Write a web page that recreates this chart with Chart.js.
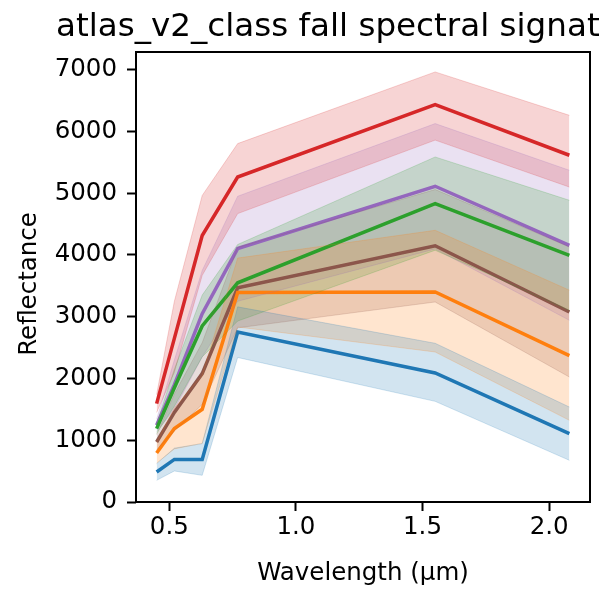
<!DOCTYPE html>
<html>
<head>
<meta charset="utf-8">
<script src="https://cdn.jsdelivr.net/npm/chart.js@4"></script>
<style>
  body { margin: 0; background: #fff; }
</style>
</head>
<body>
<canvas id="signatureChart" width="601" height="590"></canvas>
<script>
// band lower edges of the sensor (µm)
const wavelengths = [0.45, 0.52, 0.63, 0.77, 1.55, 2.08];
const xTicks = [0.5, 1.0, 1.5, 2.0];
const yTicks = [0, 1000, 2000, 3000, 4000, 5000, 6000, 7000];

// mean reflectance per class, with the shaded band (lower / upper)
const blueMean = [486, 690, 690, 2753, 2089, 1108];
const blueLower = [351, 502, 432, 2340, 1630, 675];
const blueUpper = [621, 872, 945, 3160, 2570, 1538];

const orangeMean = [794, 1189, 1501, 3391, 3401, 2370];
const orangeLower = [630, 860, 950, 2834, 2429, 1323];
const orangeUpper = [960, 1520, 2050, 3950, 4400, 3430];

const greenMean = [1189, 1850, 2850, 3550, 4832, 3995];
const greenLower = [1110, 1550, 2350, 2930, 4077, 3105];
const greenUpper = [1270, 2150, 3350, 4170, 5587, 4886];

const redMean = [1593, 2650, 4316, 5263, 6436, 5615];
const redLower = [1450, 2100, 3670, 4670, 5860, 5100];
const redUpper = [1740, 3250, 4964, 5804, 6964, 6262];

const purpleMean = [1242, 1900, 3050, 4104, 5113, 4157];
const purpleLower = [1140, 1500, 2350, 3250, 4098, 2942];
const purpleUpper = [1340, 2300, 3750, 4951, 6128, 5372];

const brownMean = [972, 1450, 2079, 3470, 4150, 3077];
const brownLower = [850, 1150, 1580, 2820, 3239, 2024];
const brownUpper = [1090, 1750, 2580, 4120, 5060, 4130];

const classes = [
  { color: "31,119,180", mean: blueMean, lower: blueLower, upper: blueUpper },
  { color: "255,127,14", mean: orangeMean, lower: orangeLower, upper: orangeUpper },
  { color: "44,160,44", mean: greenMean, lower: greenLower, upper: greenUpper },
  { color: "214,39,40", mean: redMean, lower: redLower, upper: redUpper },
  { color: "148,103,189", mean: purpleMean, lower: purpleLower, upper: purpleUpper },
  { color: "140,86,75", mean: brownMean, lower: brownLower, upper: brownUpper },
];

const toPoints = (values) => values.map((v, i) => ({ x: wavelengths[i], y: v }));

const datasets = [];
// shaded bands first, so every line sits on top of them
classes.forEach((c) => {
  datasets.push({
    data: toPoints(c.upper),
    borderColor: `rgba(${c.color},0.2)`,
    borderWidth: 1,
    pointRadius: 0,
    fill: false,
  });
  datasets.push({
    data: toPoints(c.lower),
    borderColor: `rgba(${c.color},0.2)`,
    borderWidth: 1,
    backgroundColor: `rgba(${c.color},0.2)`,
    pointRadius: 0,
    fill: "-1",
  });
});
classes.forEach((c) => {
  datasets.push({
    data: toPoints(c.mean),
    borderColor: `rgb(${c.color})`,
    borderWidth: 3.5,
    pointRadius: 0,
    fill: false,
  });
});

const FONT = "DejaVu Sans";
const TEXT = "#000";

// title, y label and the full box around the plot, like the matplotlib axes
const framePlugin = {
  id: "frame",
  afterDraw(chart) {
    const { ctx, chartArea } = chart;
    ctx.save();
    ctx.strokeStyle = "#000";
    ctx.lineWidth = 2;
    ctx.strokeRect(chartArea.left, chartArea.top,
      chartArea.right - chartArea.left, chartArea.bottom - chartArea.top);
    ctx.fillStyle = TEXT;
    ctx.font = `32.6px "${FONT}"`;
    ctx.textAlign = "center";
    ctx.textBaseline = "alphabetic";
    ctx.fillText("atlas_v2_class fall spectral signatures",
      (chartArea.left + chartArea.right) / 2, 36);

    ctx.translate(30, 284);
    ctx.rotate(-Math.PI / 2);
    ctx.font = `24.5px "${FONT}"`;
    ctx.textBaseline = "middle";
    ctx.fillText("Reflectance", 0, 0);
    ctx.restore();
  },
};

new Chart(document.getElementById("signatureChart"), {
  type: "line",
  data: { datasets: datasets },
  plugins: [framePlugin],
  options: {
    responsive: false,
    animation: false,
    layout: { padding: { top: 52, right: 11, left: 0, bottom: 0 } },
    plugins: {
      legend: { display: false },
      tooltip: { enabled: false },
      filler: { drawTime: "beforeDatasetsDraw" },
    },
    elements: { line: { tension: 0 } },
    scales: {
      x: {
        type: "linear",
        min: 0.3685,
        max: 2.1615,
        afterBuildTicks: (scale) => {
          scale.ticks = xTicks.map((v) => ({ value: v }));
        },
        afterFit: (scale) => {
          scale.height = 88;
        },
        grid: { drawOnChartArea: false, drawTicks: true, tickLength: 9, tickColor: "#000", tickWidth: 2 },
        border: { display: false },
        ticks: {
          color: TEXT,
          font: { family: FONT, size: 24.5 },
          padding: 2,
          maxRotation: 0,
          callback: (v) => Number(v).toFixed(1),
        },
        title: {
          display: true,
          text: "Wavelength (µm)",
          color: TEXT,
          font: { family: FONT, size: 24.5 },
          padding: { top: 0, bottom: 2 },
        },
      },
      y: {
        type: "linear",
        min: 0,
        max: 7287,
        afterBuildTicks: (scale) => {
          scale.ticks = yTicks.map((v) => ({ value: v }));
        },
        afterFit: (scale) => {
          scale.width = 136;
        },
        grid: { drawOnChartArea: false, drawTicks: true, tickLength: 9, tickColor: "#000", tickWidth: 2 },
        border: { display: false },
        ticks: {
          color: TEXT,
          font: { family: FONT, size: 24.5 },
          padding: 10,
          callback: (v) => String(v),
        },
      },
    },
  },
});
</script>
</body>
</html>
